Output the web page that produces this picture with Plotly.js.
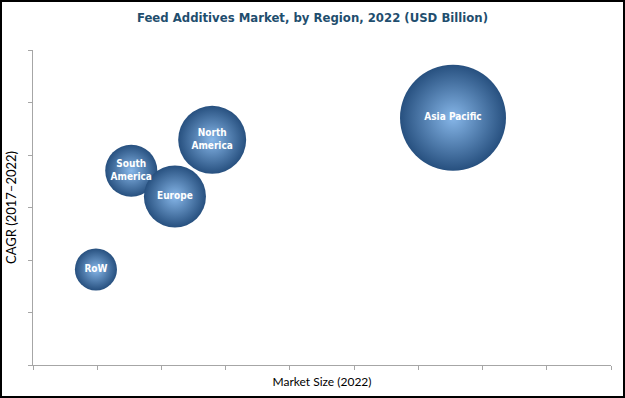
<!DOCTYPE html>
<html>
<head>
<meta charset="utf-8">
<script src="https://cdn.plot.ly/plotly-3.0.1.min.js"></script>
<style>
  html, body { margin: 0; padding: 0; background: #fff; }
  #wrap { position: relative; width: 625px; height: 398px; }
  #plot { position: absolute; left: 0; top: 0; width: 625px; height: 398px; }
  #frame { position: absolute; left: 0; top: 0; width: 625px; height: 398px;
           box-sizing: border-box; border: 2px solid #000; pointer-events: none; }
</style>
</head>
<body>
<div id="wrap"><div id="plot"></div><div id="frame"></div></div>
<script>
// Data (arbitrary axis units; no tick labels shown)
var regions    = ["RoW", "South<br>America", "Europe", "North<br>America", "Asia Pacific"];
var marketSize = [1.26, 1.93, 2.74, 3.29, 8.0];   // bubble size (USD Billion, 2022)
var sizeAxis   = [0.98, 1.53, 2.21, 2.79, 6.54];   // position on x (Market Size)
var cagr       = [1.82, 3.70, 3.21, 4.29, 4.71];   // position on y (CAGR 2017–2022)

var maxBubblePx = 106;
var sizeref = 2 * Math.max.apply(null, marketSize) / (maxBubblePx * maxBubblePx);

var trace = {
  type: "scatter",
  mode: "markers+text",
  x: sizeAxis,
  y: cagr,
  text: regions,
  textposition: "middle center",
  textfont: { family: "DejaVu Sans Condensed, Arial", size: 10, color: "#ffffff", weight: "bold" },
  hoverinfo: "text",
  marker: {
    size: marketSize,
    sizemode: "area",
    sizeref: sizeref,
    color: "#27507f",
    opacity: 1,
    line: { width: 0 },
    gradient: { type: "radial", color: "#86b6e8" }
  },
  cliponaxis: false
};

var axisCommon = {
  showgrid: false,
  zeroline: false,
  showline: true,
  linecolor: "#a6a6a6",
  linewidth: 1,
  ticks: "outside",
  ticklen: 4,
  tickcolor: "#a6a6a6",
  tickwidth: 1,
  showticklabels: false,
  dtick: 1,
  fixedrange: true
};

var layout = {
  width: 625,
  height: 398,
  margin: { l: 33, r: 14, t: 50, b: 33 },
  paper_bgcolor: "#ffffff",
  plot_bgcolor: "#ffffff",
  showlegend: false,
  title: {
    text: "<b>Feed Additives Market, by Region, 2022 (USD Billion)</b>",
    font: { family: "DejaVu Sans Condensed, Arial", size: 13, color: "#1f4e6e" },
    x: 0.5, xanchor: "center", y: 0.955, yanchor: "middle"
  },
  xaxis: Object.assign({}, axisCommon, {
    range: [0, 9],
    title: { text: "Market Size (2022)", font: { family: "Lato, Arial", size: 12, color: "#000" }, standoff: 8 }
  }),
  yaxis: Object.assign({}, axisCommon, {
    range: [0, 6],
    title: { text: "CAGR (2017–2022)", font: { family: "Lato, Arial", size: 13, color: "#000" }, standoff: 8 }
  })
};

Plotly.newPlot("plot", [trace], layout, { displayModeBar: false, staticPlot: true });
</script>
</body>
</html>
